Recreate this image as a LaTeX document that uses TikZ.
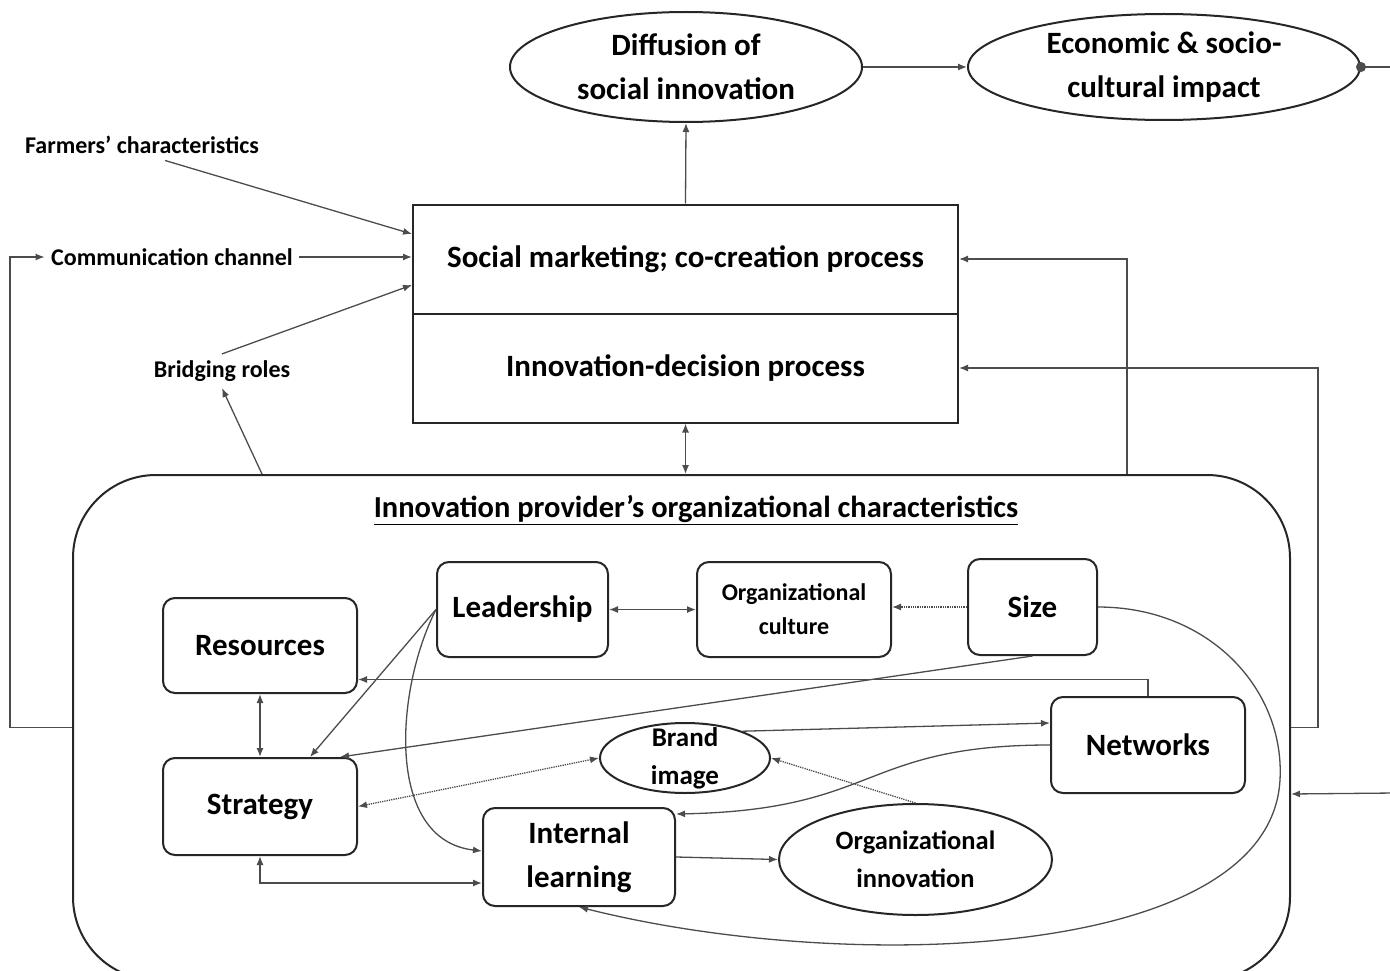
\documentclass[tikz,border=0pt]{standalone}
\usepackage{fontspec}
\setmainfont{Carlito}
\usetikzlibrary{shapes.geometric,arrows.meta}

\begin{document}
\begin{tikzpicture}[x=1pt,y=-1pt,line width=1.3pt,
    arr/.style={draw=black!70,-{Latex[length=9pt,width=7pt]}},
    darr/.style={draw=black!70,{Latex[length=9pt,width=7pt]}-{Latex[length=9pt,width=7pt]}},
    box/.style={draw=black!85,line width=2pt,rounded corners=12pt,inner sep=0pt,align=center,
      font=\fontsize{31}{44}\selectfont\bfseries},
    oval/.style={draw=black!85,line width=2pt,ellipse,inner sep=0pt,align=center,
      font=\fontsize{31}{44}\selectfont\bfseries},
    sidelabel/.style={inner sep=6pt,font=\fontsize{24}{28}\selectfont\bfseries}]
  \useasboundingbox (0,0) rectangle (1390,971);
  \clip (0,0) rectangle (1390,971);

  % outcomes
  \node[oval,minimum width=352pt,minimum height=110pt] (diffusion) at (686,67) {Diffusion of\\social innovation};
  \node[oval,minimum width=392pt,minimum height=106pt] (impact) at (1164,67) {Economic \& socio-\\cultural impact};

  % processes
  \node[box,sharp corners,minimum width=545pt,minimum height=109pt] (marketing) at (685.5,259) {Social marketing; co-creation process};
  \node[box,sharp corners,minimum width=545pt,minimum height=109pt] (decision) at (685.5,368) {Innovation-decision process};

  % outside factors
  \node[sidelabel] (farmers) at (142,145) {Farmers’ characteristics};
  \node[sidelabel] (channel) at (172,257) {Communication channel};
  \node[sidelabel] (bridging) at (222,371) {Bridging roles};

  % organization
  \node[draw=black!85,line width=2pt,rounded corners=83pt,minimum width=1217pt,minimum height=505pt] (org) at (681.5,727.5) {};
  \node[font=\fontsize{30.5}{36}\selectfont\bfseries] (orgtitle) at (696,510) {\underline{Innovation provider’s organizational characteristics}};

  \node[box,minimum width=194pt,minimum height=95pt] (resources) at (260,645.5) {Resources};
  \node[box,minimum width=171pt,minimum height=95pt] (leadership) at (522.5,609.5) {Leadership};
  \node[box,minimum width=194pt,minimum height=95pt,font=\fontsize{24}{34}\selectfont\bfseries] (culture) at (794,609.5) {Organizational\\culture};
  \node[box,minimum width=129pt,minimum height=96pt] (size) at (1032.5,607) {Size};
  \node[box,minimum width=194pt,minimum height=96pt] (networks) at (1148,745) {Networks};
  \node[box,minimum width=194pt,minimum height=97pt] (strategy) at (260,806.5) {Strategy};
  \node[box,minimum width=192pt,minimum height=98pt] (learning) at (579,857) {Internal\\learning};
  \node[oval,minimum width=170pt,minimum height=70pt] (brand) at (685,758) {};
  \node[align=center,font=\fontsize{27}{38}\selectfont\bfseries] (brandtext) at (brand) {Brand\\image};
  \node[oval,minimum width=273pt,minimum height=111pt,font=\fontsize{26.5}{38}\selectfont\bfseries] (innovation) at (915.5,859.5) {Organizational\\innovation};

  % top links
  \draw[arr] (diffusion.east) -- (impact.west);
  \draw[draw=black!70,{Circle[length=10pt]}-] ([xshift=-5pt]impact.east) -- (1395,67);
  \draw[arr] (marketing.north) -- (diffusion.south);
  \draw[arr] ([xshift=23pt]farmers.south) -- ([yshift=25pt]marketing.west);
  \draw[arr] (channel.east) -- (channel.east -| marketing.west);
  \draw[arr] (bridging.north) -- ([yshift=-26pt]marketing.west);
  \draw[arr] (org.west) -- (10,727.5) |- (channel.west);
  \draw[arr] (org.north -| 262,0) -- (bridging.south);
  \draw[darr] (decision.south) -- (decision.south |- org.north);
  \draw[arr] (org.north -| 1127,0) |- (marketing.east);
  \draw[arr] (org.east) -- (1318,727.5) |- (decision.east);
  \draw[arr] (1395,793) -- (org.east |- networks.south);

  % inside the organization
  \draw[darr] (leadership) -- (culture);
  \draw[arr,densely dotted] (size.west) -- (size.west -| culture.east);
  \draw[darr] (resources) -- (strategy);
  \draw[darr] (strategy.south) |- ([yshift=-26pt]learning.west);
  \draw[arr] (leadership.west) -- ([xshift=50pt]strategy.north);
  \draw[arr] (leadership.west) .. controls (395,690) and (385,840) .. ([yshift=6pt]learning.west);
  \draw[arr] (networks.north) |- ([yshift=-34pt]resources.east);
  \draw[arr] (size.south) -- ([xshift=80pt]strategy.north);
  \draw[arr] (brand.25) -- ([yshift=22pt]networks.west);
  \draw[darr,densely dotted] (brand.west) -- (strategy.east);
  \draw[arr,densely dotted] (innovation.north) -- (brand.east);
  \draw[arr] (networks.west) .. controls (860,745) and (880,810) .. ([yshift=-7pt]learning.north east);
  \draw[arr] (learning.east) -- (innovation.west);
  \draw[arr] (size.east) .. controls (1210,607) and (1285,690) .. (1280,780)
    .. controls (1270,960) and (850,975) .. (learning.south);
\end{tikzpicture}
\end{document}
